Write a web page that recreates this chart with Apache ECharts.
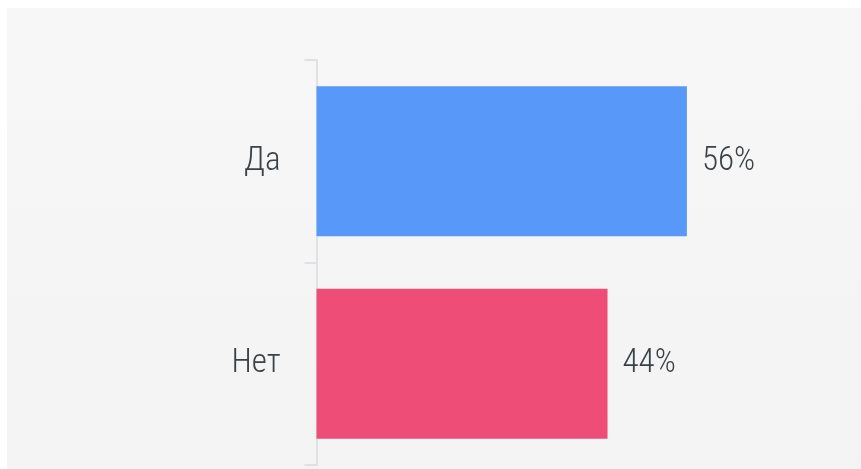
<!DOCTYPE html>
<html>
<head>
<meta charset="utf-8">
<script src="https://cdn.jsdelivr.net/npm/echarts@6/dist/echarts.min.js"></script>
<style>
    html, body { margin: 0; padding: 0; background: #ffffff; }
    #main { width: 861px; height: 469px; }
</style>
</head>
<body>
<div id="main"></div>
<script>
// данные
var categories = ["Да", "Нет"];
var values = [56, 44];
var barColors = ["#5898f9", "#ee4d78"];

var labelFont = '"Roboto Condensed", Roboto, sans-serif';

var chart = echarts.init(document.getElementById('main'));

var option = {
    backgroundColor: '#ffffff',
    animation: false,
    graphic: [{
        type: 'rect',
        z: -10,
        shape: { x: 7, y: 8, width: 861, height: 469 },
        style: {
            fill: {
                type: 'linear', x: 0, y: 0, x2: 0, y2: 1,
                colorStops: [
                    { offset: 0, color: '#f7f7f7' },
                    { offset: 1, color: '#f3f3f3' }
                ]
            }
        }
    }],
    grid: {
        left: 316.5,
        top: 60,
        bottom: 4,
        right: 81.5
    },
    xAxis: {
        type: 'value',
        min: 0,
        max: 70,
        show: false
    },
    yAxis: {
        type: 'category',
        inverse: true,
        data: categories,
        axisLine: { show: true, lineStyle: { color: '#dfe1e5', width: 2 } },
        axisTick: { show: true, length: 12, lineStyle: { color: '#dfe1e5', width: 2 } },
        axisLabel: {
            margin: 36,
            color: '#3b4247',
            fontSize: 33,
            fontWeight: 300,
            fontFamily: labelFont
        },
        splitLine: { show: false }
    },
    series: [{
        type: 'bar',
        barCategoryGap: '26%',
        data: values.map(function (v, i) {
            return { value: v, itemStyle: { color: barColors[i] } };
        }),
        label: {
            show: true,
            position: 'right',
            distance: 15,
            formatter: '{c}%',
            color: '#3b4247',
            fontSize: 33,
            fontWeight: 300,
            fontFamily: labelFont
        }
    }]
};

chart.setOption(option);
</script>
</body>
</html>
